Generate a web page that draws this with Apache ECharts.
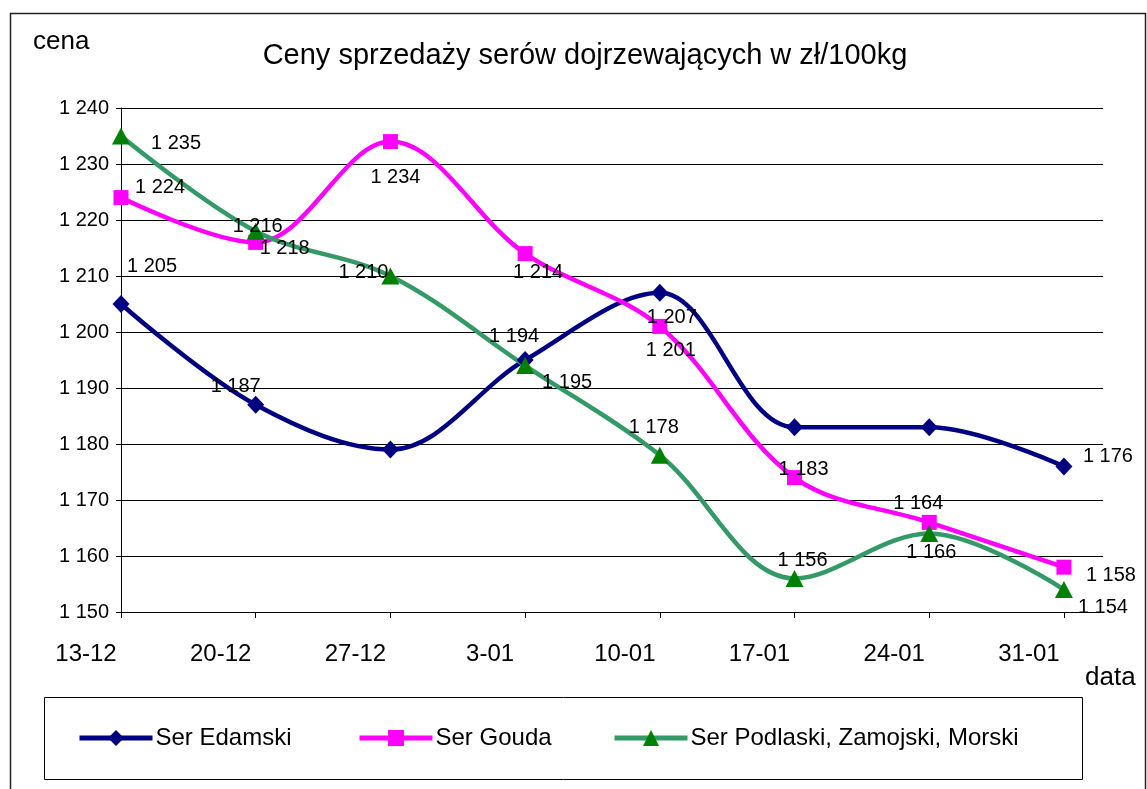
<!DOCTYPE html>
<html>
<head>
<meta charset="utf-8">
<script src="https://cdn.jsdelivr.net/npm/echarts@6/dist/echarts.min.js"></script>
<style>
html,body{margin:0;padding:0;background:#fff;}
#chart{width:1147px;height:789px;}
</style>
</head>
<body>
<div id="chart"></div>
<script>
// ---- data ----
const categories = ['13-12','20-12','27-12','3-01','10-01','17-01','24-01','31-01'];
const edamski  = [1205, 1187, 1179, 1195, 1207, 1183, 1183, 1176];
const gouda    = [1224, 1216, 1234, 1214, 1201, 1174, 1166, 1158];
const podlaski = [1235, 1218, 1210, 1194, 1178, 1156, 1164, 1154];
const seriesNames = ['Ser Edamski', 'Ser Gouda', 'Ser Podlaski, Zamojski, Morski'];
const titleText = 'Ceny sprzedaży serów dojrzewających w zł/100kg';
const yMin = 1150, yMax = 1240, yStep = 10;

// ---- label placement (style, not data) ----
const labelOffsets = {
  edamski:  [[31,-38],[-20,-18],null,[42,22],[12,25],[9,42],null,[44,-10]],
  gouda:    [[39,-10],[2,-16],[5,36],[13,19],[11,24],null,[2,30],[47,8]],
  podlaski: [[55,7],[29,17],[-27,-4],[-11,-29],[-6,-28],[8,-18],[-11,-30],[39,18]]
};

const FONT = "'Liberation Sans', Arial, sans-serif";
const fmt = v => String(Math.round(v)).replace(/\B(?=(\d{3})+(?!\d))/g, ' ');

function buildData(values, offs) {
  return values.map((v, i) => ({
    value: [i, v],
    label: offs[i] ? { show: true, offset: offs[i] } : { show: false }
  }));
}

const chart = echarts.init(document.getElementById('chart'), null, {renderer: 'canvas'});
const ticks = categories.map((_, i) => i);

const baseLabel = {
  show: true,
  position: 'inside',
  align: 'center',
  verticalAlign: 'middle',
  color: '#000',
  fontFamily: FONT,
  fontSize: 20,
  formatter: p => fmt(p.value[1])
};

const option = {
  animation: false,
  backgroundColor: '#fff',
  grid: { left: 121, top: 108, right: 44, bottom: 177, containLabel: false },
  xAxis: {
    type: 'value',
    min: 0,
    max: 7.29,
    interval: 1,
    axisLine: { show: true, lineStyle: { color: '#000', width: 1 } },
    axisTick: { show: true, length: 6, lineStyle: { color: '#000' }, customValues: ticks },
    splitLine: { show: false },
    axisLabel: {
      customValues: ticks,
      margin: 30,
      color: '#000',
      fontFamily: FONT,
      fontSize: 24,
      padding: [0, 70, 0, 0],
      formatter: v => (Number.isInteger(v) && categories[v] !== undefined) ? categories[v] : ''
    }
  },
  yAxis: {
    type: 'value',
    min: yMin,
    max: yMax,
    interval: yStep,
    axisLine: { show: true, lineStyle: { color: '#000', width: 1 } },
    axisTick: { show: true, length: 5, lineStyle: { color: '#000' } },
    splitLine: { show: true, lineStyle: { color: '#000', width: 1 } },
    axisLabel: {
      margin: 12,
      color: '#000',
      fontFamily: FONT,
      fontSize: 20,
      formatter: v => fmt(v)
    }
  },
  legend: [
    { data: [seriesNames[0]], left: 77 },
    { data: [seriesNames[1]], left: 357 },
    { data: [seriesNames[2]], left: 612 }
  ].map(l => Object.assign({
    top: 726, padding: 0, itemWidth: 73, itemHeight: 20, itemGap: 0,
    lineStyle: { width: 5 },
    textStyle: { color: '#000', fontFamily: FONT, fontSize: 24, padding: [0, 0, 0, -2] }
  }, l)),
  series: [
    {
      name: seriesNames[0], type: 'line', smooth: 0.35,
      data: buildData(edamski, labelOffsets.edamski),
      symbol: 'diamond', symbolSize: [17, 18],
      lineStyle: { color: '#000080', width: 4.5 },
      itemStyle: { color: '#000080' },
      label: baseLabel, z: 3
    },
    {
      name: seriesNames[1], type: 'line', smooth: 0.35,
      data: buildData(gouda, labelOffsets.gouda),
      symbol: 'rect', symbolSize: 15,
      lineStyle: { color: '#FF00FF', width: 4.5 },
      itemStyle: { color: '#FF00FF' },
      label: baseLabel, z: 3
    },
    {
      name: seriesNames[2], type: 'line', smooth: 0.35,
      data: buildData(podlaski, labelOffsets.podlaski),
      symbol: 'triangle', symbolSize: [18, 17],
      lineStyle: { color: '#339966', width: 4.5 },
      itemStyle: { color: '#008000' },
      label: baseLabel, z: 3
    }
  ],
  graphic: [
    { type: 'rect', shape: { x: 10.5, y: 13.5, width: 1135, height: 800 },
      style: { fill: null, stroke: '#222', lineWidth: 1.5 }, silent: true, z: -1 },
    { type: 'rect', shape: { x: 44.5, y: 697.5, width: 1038, height: 82 },
      style: { fill: null, stroke: '#000', lineWidth: 1 }, silent: true },
    { type: 'text', x: 585, y: 56,
      style: { text: titleText, fill: '#000', font: "29px " + FONT, align: 'center', verticalAlign: 'middle' } },
    { type: 'text', x: 33, y: 42,
      style: { text: 'cena', fill: '#000', font: "26px " + FONT, align: 'left', verticalAlign: 'middle' } },
    { type: 'text', x: 1085, y: 678,
      style: { text: 'data', fill: '#000', font: "26px " + FONT, align: 'left', verticalAlign: 'middle' } }
  ]
};

chart.setOption(option);
</script>
</body>
</html>
